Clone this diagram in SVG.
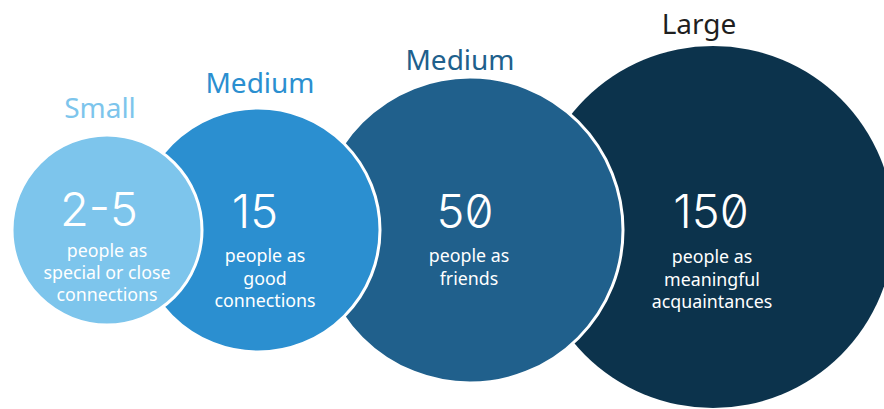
<svg xmlns="http://www.w3.org/2000/svg" width="884" height="409" viewBox="0 0 884 409">
<style>
  .lbl { font-family: "Noto Sans", "Open Sans", sans-serif; font-size: 28px; text-anchor: middle; }
  .num { font-family: Inter, "Noto Sans", sans-serif; font-size: 47px; font-weight: 300; fill: #ffffff; text-anchor: middle; }
  .zero { font-feature-settings: "zero" 1; }
  .body { font-family: "Noto Sans", "Open Sans", sans-serif; font-size: 17.8px; fill: #ffffff; text-anchor: middle; }
  .ring { stroke: #ffffff; stroke-width: 3; }
</style>
<rect width="884" height="409" fill="#ffffff"/>
<g id="large">
  <circle cx="713" cy="227" r="181" fill="#0c334c"/>
  <text class="lbl" x="699" y="34" fill="#1f1f1f">Large</text>
</g>
<g id="medium-friends">
  <circle class="ring" cx="470" cy="230" r="153" fill="#20608c"/>
  <text class="lbl" x="460" y="70" fill="#20608c">Medium</text>
</g>
<g id="medium-good">
  <circle class="ring" cx="258" cy="230" r="122" fill="#2b8fd0"/>
  <text class="lbl" x="260" y="93" fill="#2b8fd0">Medium</text>
</g>
<g id="small">
  <circle class="ring" cx="107" cy="230" r="95" fill="#7dc5ec"/>
  <text class="lbl" x="100" y="118" fill="#7dc5ec">Small</text>
</g>
<g id="small-text">
  <text class="num" x="99" y="226">2-5</text>
  <text class="body" x="107" y="256.5">people as</text>
  <text class="body" x="107" y="278.5">special or close</text>
  <text class="body" x="107" y="300.5">connections</text>
</g>
<g id="medium-good-text">
  <text class="num" x="255" y="228">15</text>
  <text class="body" x="265" y="262">people as</text>
  <text class="body" x="265" y="285">good</text>
  <text class="body" x="265" y="307">connections</text>
</g>
<g id="medium-friends-text">
  <text class="num zero" x="465" y="228">50</text>
  <text class="body" x="469" y="262">people as</text>
  <text class="body" x="469" y="285">friends</text>
</g>
<g id="large-text">
  <text class="num zero" x="711" y="228">150</text>
  <text class="body" x="712" y="263">people as</text>
  <text class="body" x="712" y="286">meaningful</text>
  <text class="body" x="712" y="308">acquaintances</text>
</g>
<g id="connectors"></g>
</svg>
